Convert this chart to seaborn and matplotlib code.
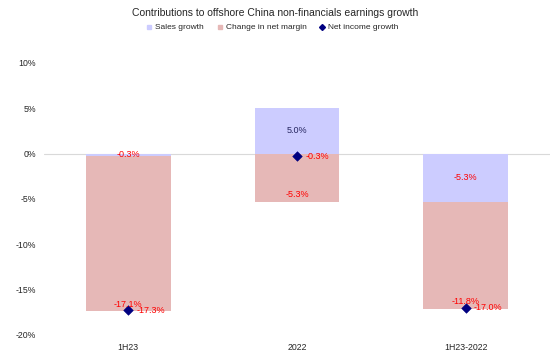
import matplotlib
matplotlib.use("Agg")
import matplotlib.pyplot as plt
from matplotlib.lines import Line2D
import pandas as pd
import seaborn as sns

# Data (percent)
periods = ["1H23", "2022", "1H23-2022"]
sales_growth = [-0.3, 5.0, -5.3]
margin_change = [-17.1, -5.3, -11.8]
net_income_growth = [-17.3, -0.3, -17.0]

SALES_COLOR = "#CCCCFF"
MARGIN_COLOR = "#E6B8B7"
NET_COLOR = "#000080"
LABEL_RED = "#FF0000"

sns.set_theme(style="white")
plt.rcParams["font.family"] = ["Liberation Sans", "DejaVu Sans"]

df = pd.DataFrame({
    "period": periods,
    "sales": sales_growth,
    "margin": margin_change,
    "net": net_income_growth,
})
# stacking like Excel: positives and negatives stack separately
df["margin_bottom"] = [min(s, 0) if m < 0 else max(s, 0) for s, m in zip(df["sales"], df["margin"])]

fig = plt.figure(figsize=(5.5, 3.62), dpi=100)
ax = fig.add_axes([0.08, 0.075, 0.92, 0.751])

sns.barplot(data=df, x="period", y="sales", color=SALES_COLOR, saturation=1,
            width=0.5, ax=ax, linewidth=0)
sns.barplot(data=df, x="period", y="margin", color=MARGIN_COLOR, saturation=1,
            width=0.5, ax=ax, linewidth=0, bottom=df["margin_bottom"].tolist())
ax.axhline(0, color="#D9D9D9", lw=0.8, zorder=0.5)
sns.scatterplot(data=df, x="period", y="net", marker="D", s=24, color=NET_COLOR,
                edgecolor=NET_COLOR, ax=ax, zorder=5)

for i, row in df.iterrows():
    # sales label at segment centre
    c = LABEL_RED if row["sales"] < 0 else "#262660"
    ax.text(i, row["sales"] / 2, f"{row['sales']:.1f}%", ha="center", va="center",
            fontsize=6.5, color=c, zorder=6)
    # margin label near bar end
    end = row["margin_bottom"] + row["margin"]
    ax.annotate(f"{row['margin']:.1f}%", (i, end), xytext=(0, 2), textcoords="offset points",
                ha="center", va="bottom", fontsize=6.5, color=LABEL_RED, zorder=6)
    # net income label to the right of the marker
    ax.annotate(f"{row['net']:.1f}%", (i, row["net"]), xytext=(6, 0), textcoords="offset points",
                ha="left", va="center", fontsize=6.5, color=LABEL_RED, zorder=6)

ax.set_xlim(-0.5, 2.5)
ax.set_ylim(-20, 10)
ax.set_yticks(range(-20, 11, 5))
ax.set_yticklabels([f"{v}%" for v in range(-20, 11, 5)])
ax.set_xlabel("")
ax.set_ylabel("")
ax.tick_params(axis="both", length=0, labelsize=6.3, colors="#262626", pad=6)
for sp in ax.spines.values():
    sp.set_visible(False)

fig.text(0.5, 0.965, "Contributions to offshore China non-financials earnings growth",
         ha="center", va="center", fontsize=7.5, color="#262626")

handles = [
    Line2D([], [], marker="s", linestyle="none", markersize=3.5, color=SALES_COLOR, label="Sales growth"),
    Line2D([], [], marker="s", linestyle="none", markersize=3.5, color=MARGIN_COLOR, label="Change in net margin"),
    Line2D([], [], marker="D", linestyle="none", markersize=3, color=NET_COLOR, label="Net income growth"),
]
fig.legend(handles=handles, loc="center", bbox_to_anchor=(0.495, 0.924), ncol=3, frameon=False,
           fontsize=6, handlelength=0.8, handletextpad=0.3, columnspacing=1.5, labelcolor="#262626")

fig.savefig("out.png", dpi=100)
